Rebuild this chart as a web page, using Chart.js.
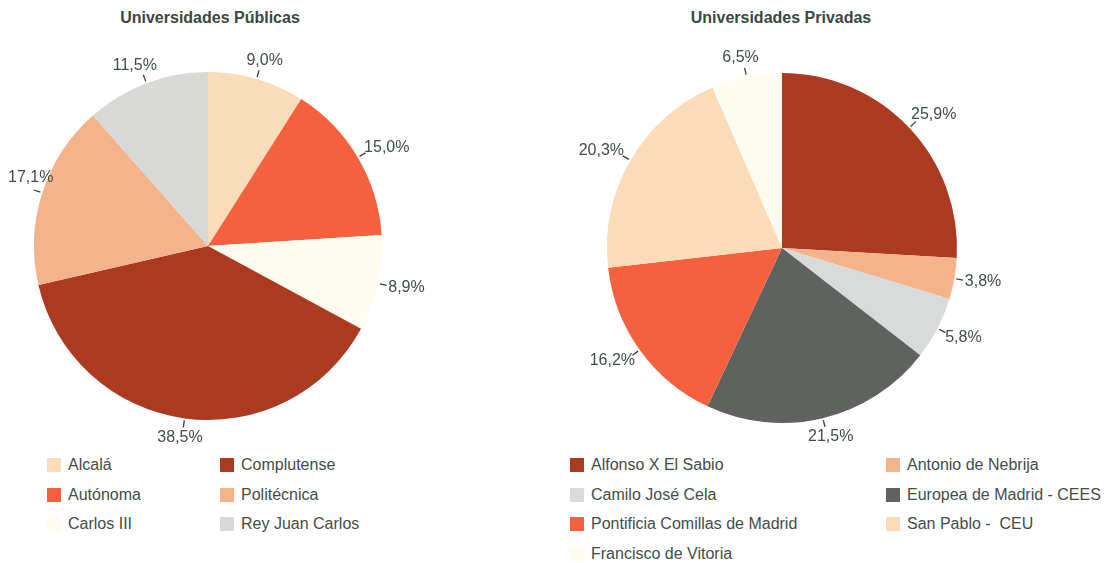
<!DOCTYPE html>
<html>
<head>
<meta charset="utf-8">
<script src="https://cdn.jsdelivr.net/npm/chart.js@4"></script>
<style>
  html, body { margin: 0; padding: 0; background: #ffffff; }
  body { width: 1105px; height: 563px; position: relative; overflow: hidden; font-family: "Liberation Sans", Arial, sans-serif; }
  .title { position: absolute; top: 9px; font-weight: bold; font-size: 16px; color: #3a483f; white-space: nowrap; transform: translateX(-50%); }
  .wrap { position: absolute; top: 0; }
  .leg { position: absolute; font-size: 16px; color: #434d47; white-space: pre; line-height: 18px; }
  .leg span.sw { position: absolute; width: 14px; height: 14px; top: 2px; }
</style>
</head>
<body>
<div class="title" style="left:210px">Universidades Públicas</div>
<div class="title" style="left:781px">Universidades Privadas</div>
<div class="wrap" style="left:0px"><canvas id="c1" width="460" height="445"></canvas></div>
<div class="wrap" style="left:560px"><canvas id="c2" width="545" height="445"></canvas></div>
<div id="legends"></div>
<script>
// ---- Data ----
const publicLabels = ["Alcalá", "Autónoma", "Carlos III", "Complutense", "Politécnica", "Rey Juan Carlos"];
const publicValues = [9.0, 15.0, 8.9, 38.5, 17.1, 11.5];
const publicColors = ["#f9dcb8", "#f5613e", "#fefcef", "#ab3a21", "#f3b38b", "#d8d8d6"];

const privateLabels = ["Alfonso X El Sabio", "Antonio de Nebrija", "Camilo José Cela", "Europea de Madrid - CEES", "Pontificia Comillas de Madrid", "San Pablo -  CEU", "Francisco de Vitoria"];
const privateValues = [25.9, 3.8, 5.8, 21.5, 16.2, 20.3, 6.5];
const privateColors = ["#ab3a21", "#f3b38b", "#d9dbda", "#5f625f", "#f5613e", "#fadcb8", "#fefcef"];

// ---- Outside percentage labels with short leader ticks ----
const outLabels = {
  id: 'outLabels',
  afterDatasetsDraw(chart) {
    const ctx = chart.ctx;
    const meta = chart.getDatasetMeta(0);
    const data = chart.data.datasets[0].data;
    const W = chart.width;
    ctx.save();
    ctx.font = '16px "Liberation Sans", Arial, sans-serif';
    ctx.fillStyle = '#434d47';
    ctx.strokeStyle = '#3b3f3c';
    ctx.lineWidth = 1.3;
    meta.data.forEach((arc, i) => {
      const p = arc.getProps(['x', 'y', 'startAngle', 'endAngle', 'outerRadius'], true);
      const a = (p.startAngle + p.endAngle) / 2;
      const cx = Math.cos(a), cy = Math.sin(a);
      const R = p.outerRadius;
      const ex = p.x + cx * (R + 9), ey = p.y + cy * (R + 9);
      ctx.beginPath();
      ctx.moveTo(p.x + cx * (R + 2), p.y + cy * (R + 2));
      ctx.lineTo(ex, ey);
      ctx.stroke();
      const txt = data[i].toFixed(1).replace('.', ',') + '%';
      const w = ctx.measureText(txt).width;
      const h = 16;
      const ax = p.x + cx * (R + 11), ay = p.y + cy * (R + 11);
      let tx = ax + cx * w / 2;
      let ty = ay + cy * h / 2;
      const minX = 8 + w / 2, maxX = W - 4 - w / 2;
      if (tx < minX || tx > maxX) {
        tx = Math.min(Math.max(tx, minX), maxX);
        ty = cy < 0 ? ey - h / 2 - 4 : ey + h / 2 + 4;
      }
      ctx.textAlign = 'center';
      ctx.textBaseline = 'middle';
      ctx.fillText(txt, tx, ty);
    });
    ctx.restore();
  }
};

function makePie(id, labels, values, colors, pad) {
  return new Chart(document.getElementById(id), {
    type: 'pie',
    data: { labels: labels, datasets: [{ data: values, backgroundColor: colors, borderWidth: 0, hoverOffset: 0 }] },
    options: {
      responsive: false,
      animation: false,
      devicePixelRatio: 1,
      layout: { padding: pad },
      plugins: { legend: { display: false }, tooltip: { enabled: false }, title: { display: false } },
      events: []
    },
    plugins: [outLabels]
  });
}

makePie('c1', publicLabels, publicValues, publicColors, { left: 34, top: 72, right: 78, bottom: 25 });
makePie('c2', privateLabels, privateValues, privateColors, { left: 47, top: 73, right: 148, bottom: 22 });

// ---- HTML legends ----
function addLegend(labels, colors, order, colX, rowY) {
  const host = document.getElementById('legends');
  labels.forEach((lab, i) => {
    const pos = order(i);
    const d = document.createElement('div');
    d.className = 'leg';
    d.style.left = (colX[pos.col]) + 'px';
    d.style.top = (rowY[pos.row] - 9) + 'px';
    d.style.paddingLeft = '21px';
    const sw = document.createElement('span');
    sw.className = 'sw';
    sw.style.left = '0px';
    sw.style.background = colors[i];
    d.appendChild(sw);
    d.appendChild(document.createTextNode(lab));
    host.appendChild(d);
  });
}
// public: column-major, 3 rows
addLegend(publicLabels, publicColors, i => ({ col: Math.floor(i / 3), row: i % 3 }), [47, 220], [465, 494.5, 524]);
// private: row-major, 2 columns
addLegend(privateLabels, privateColors, i => ({ col: i % 2, row: Math.floor(i / 2) }), [570, 886], [465, 494.5, 524, 553.5]);
</script>
</body>
</html>
